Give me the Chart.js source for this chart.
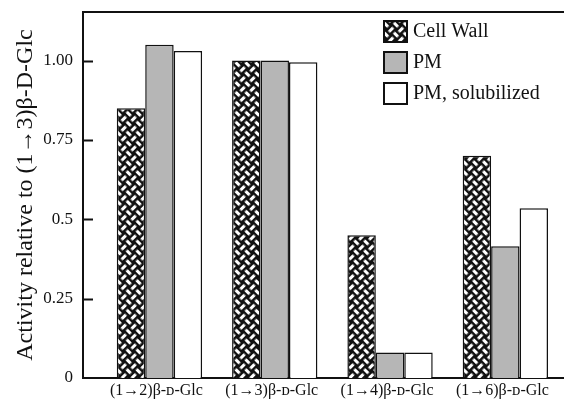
<!DOCTYPE html>
<html>
<head>
<meta charset="utf-8">
<script src="https://cdn.jsdelivr.net/npm/chart.js@4/dist/chart.umd.min.js"></script>
<style>
  html, body { margin: 0; padding: 0; background: #fff; }
  canvas { display: block; }
</style>
</head>
<body>
<canvas id="myChart" width="564" height="405"></canvas>
<script>
var categories = ['(1\u21922)\u03b2-\u1d05-Glc', '(1\u21923)\u03b2-\u1d05-Glc', '(1\u21924)\u03b2-\u1d05-Glc', '(1\u21926)\u03b2-\u1d05-Glc'];
var categoryPositions = [1, 2, 3, 4];
var cellWall = [0.85, 1.00, 0.45, 0.70];
var pm = [1.05, 1.00, 0.08, 0.415];
var pmSolubilized = [1.03, 0.995, 0.08, 0.535];
var yTickValues = [0, 0.25, 0.5, 0.75, 1];
var yTickLabels = ['0', '0.25', '0.5', '0.75', '1.00'];
var seriesLabels = ['Cell Wall', 'PM', 'PM, solubilized'];

var serif = "'Liberation Serif', 'DejaVu Serif', serif";

// basket weave fill used for the cell wall bars
var makeWeave = function() {
  var s = 7, c, g, p;
  c = document.createElement('canvas');
  c.width = c.height = 2 * s;
  g = c.getContext('2d');
  g.fillStyle = '#111';
  g.fillRect(0, 0, 2 * s, 2 * s);
  g.strokeStyle = '#fff';
  g.lineWidth = 3;
  g.beginPath();
  g.moveTo(0.6, s / 2); g.lineTo(s - 0.6, s / 2);
  g.moveTo(s + 0.6, s * 1.5); g.lineTo(2 * s - 0.6, s * 1.5);
  g.moveTo(s * 1.5, 0.6); g.lineTo(s * 1.5, s - 0.6);
  g.moveTo(s / 2, s + 0.6); g.lineTo(s / 2, 2 * s - 0.6);
  g.stroke();
  p = g.createPattern(c, 'repeat');
  p.setTransform(new DOMMatrix().rotateSelf(45));
  return p;
};

var toPoints = function(values) {
  return values.map(function(v, i) { return { x: categoryPositions[i], y: v }; });
};

var fills = [makeWeave(), '#b6b6b6', '#ffffff'];
var series = [cellWall, pm, pmSolubilized];

var data = {
  datasets: series.map(function(values, i) {
    return {
      label: seriesLabels[i],
      data: toPoints(values),
      backgroundColor: fills[i],
      borderColor: '#111',
      borderWidth: 1.5,
      barPercentage: 1,
      categoryPercentage: 0.74
    };
  })
};

// inward ticks, top frame line and the boxed legend
var framePlugin = {
  id: 'frame',
  afterDraw: function(chart) {
    var ctx = chart.ctx, area = chart.chartArea, y = chart.scales.y;
    ctx.save();
    ctx.strokeStyle = '#111';
    ctx.lineWidth = 2;
    ctx.beginPath();
    ctx.moveTo(area.left, area.top);
    ctx.lineTo(area.right + 1, area.top);
    yTickValues.forEach(function(v) {
      var py = Math.round(y.getPixelForValue(v)) + 0.5;
      if (v === 0) return;
      ctx.moveTo(area.left, py);
      ctx.lineTo(area.left + 10, py);
    });
    ctx.stroke();

    ctx.font = '20px ' + serif;
    ctx.textBaseline = 'middle';
    chart.data.datasets.forEach(function(ds, i) {
      var bx = 384, by = 21 + i * 31;
      ctx.fillStyle = ds.backgroundColor;
      ctx.fillRect(bx, by, 23, 21);
      ctx.lineWidth = 2;
      ctx.strokeRect(bx, by, 23, 21);
      ctx.fillStyle = '#111';
      ctx.fillText(ds.label, 413, by + 11);
    });
    ctx.restore();
  }
};

var ctx = document.getElementById('myChart').getContext('2d');

var myChart = new Chart(ctx, {
  type: 'bar',
  data: data,
  plugins: [framePlugin],
  options: {
    responsive: false,
    animation: false,
    devicePixelRatio: 1,
    layout: { padding: { top: 12, right: 1, left: 0, bottom: 0 } },
    plugins: {
      legend: { display: false },
      tooltip: { enabled: false }
    },
    scales: {
      x: {
        type: 'linear',
        offset: false,
        min: 0.337,
        max: 4.5,
        afterBuildTicks: function(scale) {
          scale.ticks = categoryPositions.map(function(v) { return { value: v }; });
        },
        afterFit: function(scale) {
          scale.height = 27;
          scale.paddingLeft = 0;
          scale.paddingRight = 0;
        },
        grid: { display: false, drawTicks: false, offset: false },
        border: { display: true, color: '#111', width: 2 },
        ticks: {
          autoSkip: false,
          maxRotation: 0,
          padding: 3,
          labelOffset: -3,
          color: '#111',
          font: { family: serif, size: 16 },
          callback: function(value) {
            return categories[categoryPositions.indexOf(value)];
          }
        }
      },
      y: {
        min: 0,
        max: 1.153,
        afterBuildTicks: function(scale) {
          scale.ticks = yTickValues.map(function(v) { return { value: v }; });
        },
        afterFit: function(scale) {
          scale.width = 83;
          scale.paddingTop = 0;
          scale.paddingBottom = 0;
        },
        grid: { display: false, drawTicks: false },
        border: { display: true, color: '#111', width: 2 },
        ticks: {
          padding: 10,
          color: '#111',
          font: { family: serif, size: 17 },
          callback: function(value) {
            return yTickLabels[yTickValues.indexOf(value)];
          }
        },
        title: {
          display: true,
          text: 'Activity relative to (1\u21923)\u03b2-D-Glc',
          color: '#111',
          font: { family: serif, size: 24 },
          padding: { top: 11, bottom: 0 }
        }
      }
    }
  }
});
</script>
</body>
</html>
